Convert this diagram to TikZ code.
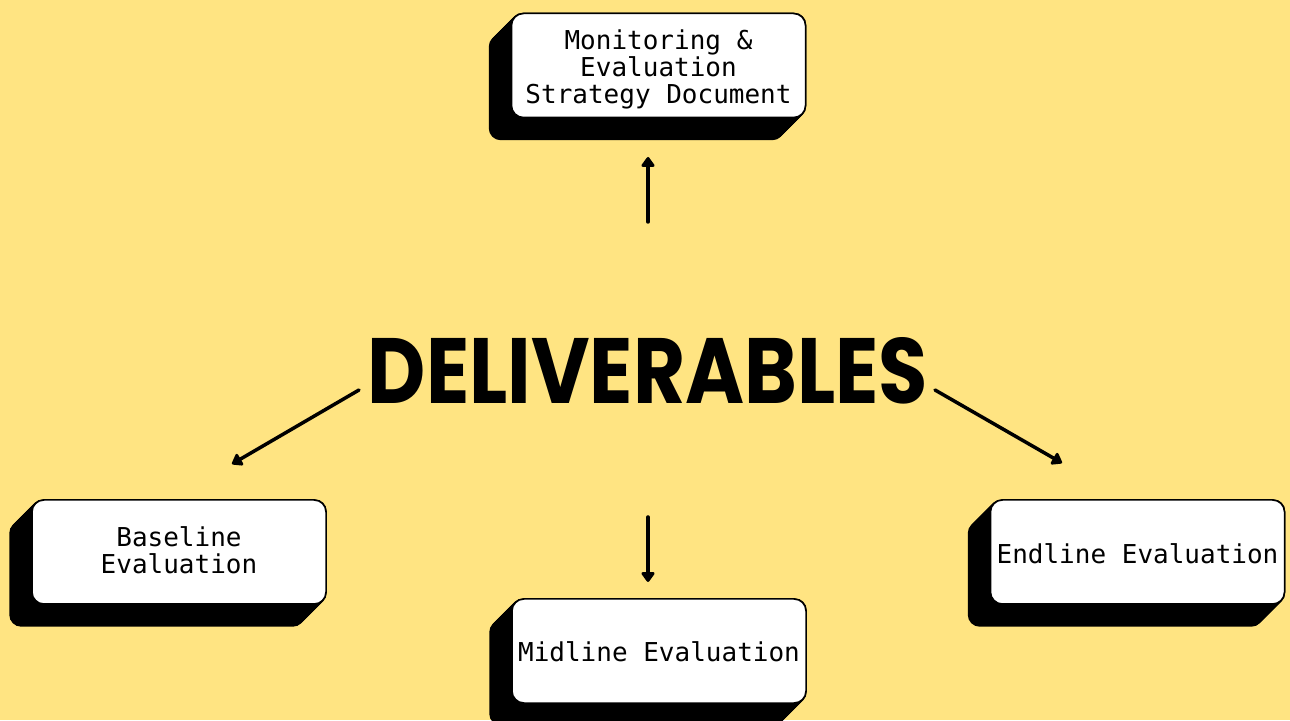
\documentclass[tikz,border=0pt]{standalone}
\usepackage{fontspec}
\usepackage{graphicx}
\setmonofont{DejaVu Sans Mono}
\newfontfamily\titlefont{Poppins}
\usetikzlibrary{arrows.meta,backgrounds}
\definecolor{bgyellow}{RGB}{255,228,130}
\tikzset{
  card/.style={draw=black, line width=1.5pt, fill=white, rounded corners=12pt,
    minimum width=294pt, minimum height=104pt, inner sep=2pt, align=center,
    font=\fontsize{26pt}{26pt}\selectfont\ttfamily},
  arr/.style={line width=3.5pt, line cap=round, -{Triangle[round,length=11pt,width=15pt]}}
}
\newcommand{\cardtext}[2]{\raisebox{#1}[\height][\depth]{\renewcommand\arraystretch{0.96}\begin{tabular}{@{}c@{}}#2\end{tabular}}}
\newcommand{\cardshadow}[1]{%
  \foreach \k in {0,1,...,22}{%
    \fill[black, rounded corners=12pt]
      ([shift={(-\k pt,-\k pt)}]#1.south west) rectangle ([shift={(-\k pt,-\k pt)}]#1.north east);
  }%
}
\begin{document}
\begin{tikzpicture}[x=1pt,y=1pt]
\useasboundingbox (0,0) rectangle (1290,720);

\node[card] (mes) at (658.5,654.5) {\cardtext{-5pt}{Monitoring \&\\Evaluation\\Strategy Document}};
\node[card] (base) at (179,168) {\cardtext{-1.5pt}{Baseline\\Evaluation}};
\node[card] (mid) at (659,69) {\cardtext{-4pt}{Midline Evaluation}};
\node[card] (end) at (1137.5,168) {\cardtext{-5pt}{Endline Evaluation}};

\begin{scope}[on background layer]
  \fill[bgyellow] (0,0) rectangle (1290,720);
  \cardshadow{mes}
  \cardshadow{base}
  \cardshadow{mid}
  \cardshadow{end}
\end{scope}

\node[inner sep=0pt] (title) at (648,349)
  {\resizebox{560pt}{66pt}{\titlefont\bfseries DELIVERABLES}};

\coordinate (upS) at (648,498);
\coordinate (upE) at (648,563);
\coordinate (dnS) at (648,203);
\coordinate (dnE) at (648,138);
\coordinate (lS) at (359,330);
\coordinate (lE) at (232,256);
\coordinate (rS) at (935,330);
\coordinate (rE) at (1062,257);

\draw[arr] (upS) -- (upE);
\draw[arr] (dnS) -- (dnE);
\draw[arr] (lS) -- (lE);
\draw[arr] (rS) -- (rE);
\end{tikzpicture}
\end{document}
